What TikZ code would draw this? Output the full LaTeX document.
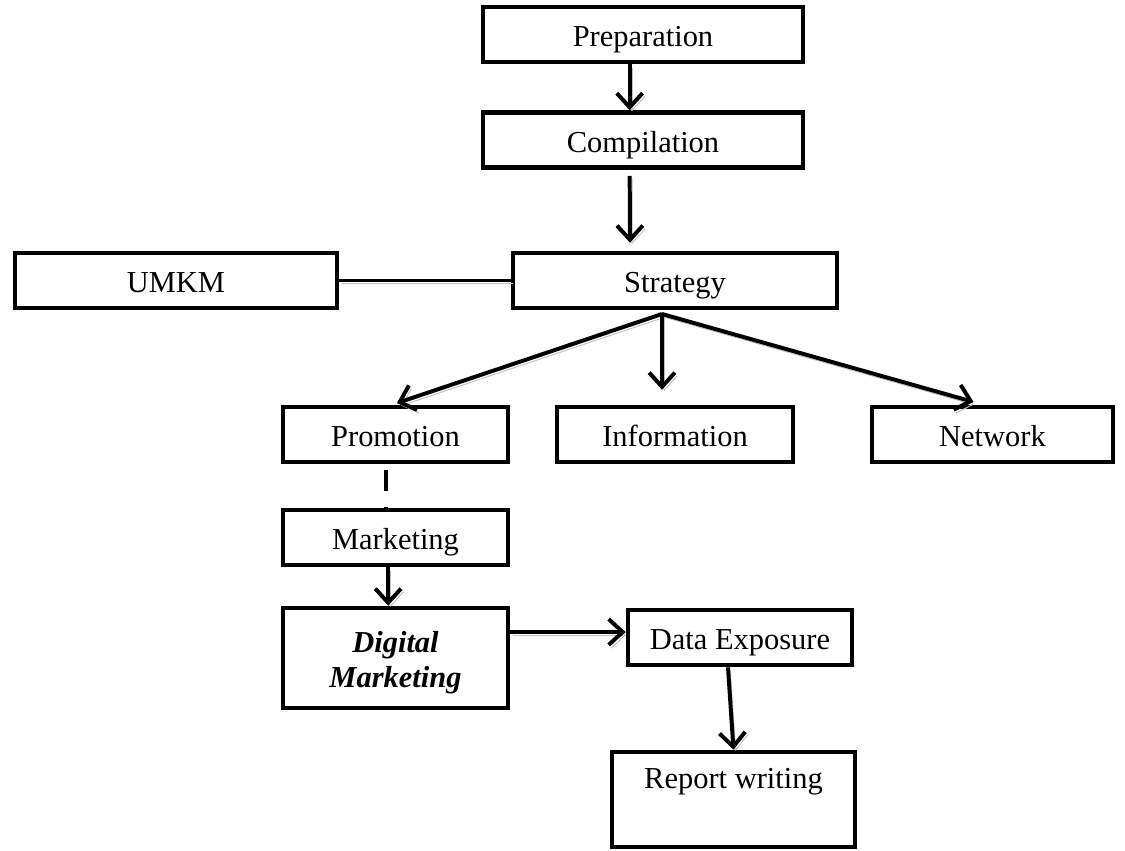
\documentclass[tikz,border=0pt]{standalone}
\usepackage{fontspec}
\setmainfont{Liberation Serif}
\usetikzlibrary{arrows.meta}
\usetikzlibrary{positioning}

\begin{document}
\begin{tikzpicture}[x=0.015cm, y=-0.015cm,
    stage/.style={draw, line width=2pt, minimum height=0.825cm, inner sep=0pt,
        text height=10.5pt, text depth=0pt,
        font=\fontsize{13}{15}\selectfont, align=center},
    link/.style={line width=1.7pt, preaction={draw=gray!50, transform canvas={shift={(1pt,-1.4pt)}}}},
    flow/.style={link, -{Straight Barb[length=6pt, width=11pt]}},
    ]
    \useasboundingbox (0,0) rectangle (1125,851);

    \node (prep) [stage, minimum width=4.8cm] at (643,34.5) {Preparation};
    \node (comp) [stage, minimum width=4.8cm] at (643,140) {Compilation};
    \node (strat) [stage, minimum width=4.86cm] at (675,280.5) {Strategy};
    \node (umkm) [stage, minimum width=4.83cm] at (176,280.5) {UMKM};

    \node (promo) [stage, minimum width=3.375cm] at (395.5,434.5) {Promotion};
    \node (info) [stage, minimum width=3.54cm] at (675,434.5) {Information};
    \node (net) [stage, minimum width=3.615cm] at (992.5,434.5) {Network};

    \node (mark) [stage, minimum width=3.375cm] at (395.5,537.5) {Marketing};
    \node (digi) [stage, minimum width=3.375cm, minimum height=1.5cm, text height=25pt,
        font=\fontsize{13}{15}\selectfont\bfseries\itshape] at (395.5,658) {Digital\\Marketing};
    \node (data) [stage, minimum width=3.36cm] at (740,637.5) {Data Exposure};
    \node (report) [stage, minimum width=3.645cm, minimum height=1.425cm, text depth=20pt] at (733.5,799.5) {Report writing};

    \coordinate (fan) at (662,314);
    \coordinate (dm) at ([yshift=0.39cm]digi.east);

    \draw[flow] ([xshift=-0.2cm]prep.south) -- ([xshift=-0.2cm]comp.north);
    \draw[flow, shorten <=6*0.015cm, shorten >=8*0.015cm] ([xshift=-0.2cm]comp.south) -- ([xshift=-0.675cm]strat.north);
    \draw[link] (umkm.east) -- (strat.west);

    \draw[flow, shorten >=5*0.015cm] (fan) -- ([xshift=-0.05cm]promo.north);
    \draw[flow, shorten >=15*0.015cm] (fan) -- (fan |- info.north);
    \draw[flow, shorten >=10*0.015cm] (fan) -- ([xshift=-0.14cm]net.north);

    \draw[line width=1.7pt, dash pattern=on 9pt off 6.5pt, shorten <=6*0.015cm] ([xshift=-0.14cm]promo.south) -- ([xshift=-0.14cm]mark.north);
    \draw[flow] ([xshift=-0.11cm]mark.south) -- ([xshift=-0.11cm]digi.north);
    \draw[flow] (dm) -- (dm -| data.west);
    \draw[flow] ([xshift=-0.18cm]data.south) -- (report.north);
\end{tikzpicture}
\end{document}
